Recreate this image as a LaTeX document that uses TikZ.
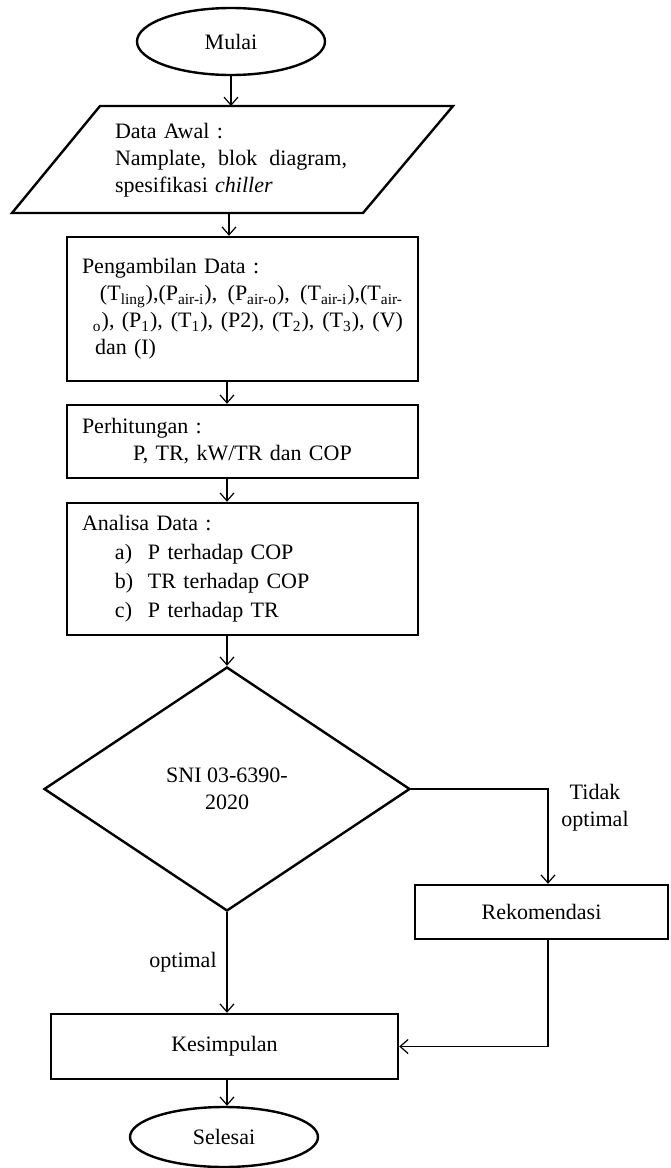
\documentclass[tikz,border=0pt]{standalone}
\usepackage{fontspec}
\setmainfont{Liberation Serif}
\usetikzlibrary{shapes.geometric,arrows.meta}
\newcommand{\subt}[1]{\textsubscript{#1}}

\begin{document}
\begin{tikzpicture}[x=0.5pt,y=-0.5pt,
  font=\fontsize{11}{13.5}\selectfont,
  garis/.style={line width=1.2pt},
  terminal/.style={garis,draw,ellipse,minimum width=94pt,minimum height=33.5pt,inner sep=0pt},
  proses/.style={garis,draw,rectangle,inner xsep=7.5pt,inner ysep=0pt,align=left},
  panah/.style={line width=0.6pt,-{Straight Barb[length=4pt,width=7pt]}}]
\useasboundingbox (0,0) rectangle (670,1168);

\coordinate (kol) at (227,0);
\coordinate (kanan) at (548,0);
\coordinate (atasdata) at (232,106);
\coordinate (bawahdata) at (229,213);

\node[terminal] (mulai) at (231,41.5) {Mulai};

\draw[garis] (100,106) -- (453,106) -- (363,213) -- (12,213) -- cycle;
\node[align=left,text width=116pt,inner sep=0pt] (data) at (231,160) {Data Awal :\\Namplate,\hfill blok\hfill diagram,\\spesifikasi \textit{chiller}};

\node[proses,text width=160.5pt,minimum height=72pt] (ambil) at (242.5,309) {Pengambilan Data :\\
\hspace*{9pt}(T\subt{ling}),(P\subt{air-i}),\hfill (P\subt{air-o}),\hfill (T\subt{air-i}),(T\subt{air-}\\
\hspace*{5.5pt}\subt{o}), (P\subt{1}),\hfill (T\subt{1}),\hfill (P2),\hfill (T\subt{2}),\hfill (T\subt{3}),\hfill (V)\\
\hspace*{6.5pt}dan (I)};

\node[proses,text width=160.5pt,minimum height=36.5pt] (hitung) at (242.5,441.5) {Perhitungan :\\\hspace*{25.5pt}P, TR, kW/TR dan COP};

\node[proses,text width=160.5pt,minimum height=66pt] (analisa) at (242.5,569) {Analisa Data :\\[1pt]
\hspace*{16.5pt}\makebox[16.5pt][l]{a)}P terhadap COP\\[1pt]
\hspace*{16.5pt}\makebox[16.5pt][l]{b)}TR terhadap COP\\[1pt]
\hspace*{16.5pt}\makebox[16.5pt][l]{c)}P terhadap TR};

\node[garis,draw,diamond,minimum width=183pt,minimum height=122pt,inner sep=0pt,align=center] (sni) at (227,789) {SNI 03-6390-\\2020};

\node[proses,minimum width=126.5pt,minimum height=27pt] (rekom) at (541.5,912) {Rekomendasi};
\node[proses,minimum width=173.5pt,minimum height=32.5pt] (simpul) at (224.5,1046.5) {Kesimpulan};
\node[terminal,minimum height=30pt] (selesai) at (224,1137) {Selesai};

\node[align=center] (tidak) at (595,808) {Tidak\\optimal};
\node (optimal) at (183,962) {optimal};

\draw[panah] (mulai.south) -- (mulai.south |- atasdata);
\draw[panah] (bawahdata) -- (bawahdata |- ambil.north);
\draw[panah] (kol |- ambil.south) -- (kol |- hitung.north);
\draw[panah] (kol |- hitung.south) -- (kol |- analisa.north);
\draw[panah] (kol |- analisa.south) -- (sni.north);
\draw[panah] (sni.south) -- (sni.south |- simpul.north);
\draw[panah] (sni.east) -| (kanan |- rekom.north);
\draw[panah] (kanan |- rekom.south) |- (simpul.east);
\draw[panah] (kol |- simpul.south) -- (kol |- selesai.north);
\end{tikzpicture}
\end{document}
